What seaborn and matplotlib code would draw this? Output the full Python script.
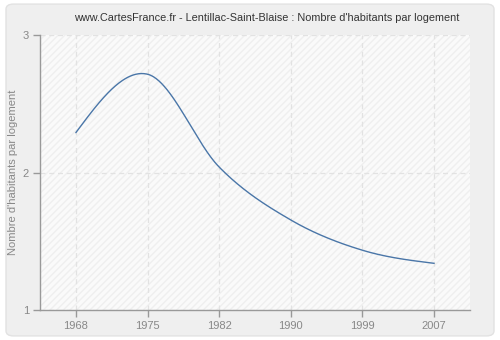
import numpy as np
import pandas as pd
import seaborn as sns
import matplotlib
matplotlib.use("Agg")
import matplotlib.pyplot as plt
from matplotlib.patches import FancyBboxPatch, Rectangle

# Census years and average household size
years = ["1968", "1975", "1982", "1990", "1999", "2007"]
habitants_par_logement = [2.29, 2.715, 2.04, 1.655, 1.435, 1.34]

title = "www.CartesFrance.fr - Lentillac-Saint-Blaise : Nombre d'habitants par logement"
ylabel = "Nombre d'habitants par logement"
yticks = [1, 2, 3]


def smooth_curve(x, y, per_seg=80):
    """Cubic Hermite curve: Catmull-Rom tangents inside, natural ends."""
    x = np.asarray(x, float)
    y = np.asarray(y, float)
    k = len(x)
    d = np.diff(y) / np.diff(x)
    m = np.empty(k)
    for i in range(1, k - 1):
        m[i] = (y[i + 1] - y[i - 1]) / (x[i + 1] - x[i - 1])
    m[0] = (3 * d[0] - m[1]) / 2
    m[-1] = (3 * d[-1] - m[-2]) / 2
    xs_all, ys_all = [], []
    for i in range(k - 1):
        h = x[i + 1] - x[i]
        t = np.linspace(0, 1, per_seg, endpoint=(i == k - 2))
        h00 = 2 * t**3 - 3 * t**2 + 1
        h10 = t**3 - 2 * t**2 + t
        h01 = -2 * t**3 + 3 * t**2
        h11 = t**3 - t**2
        xs_all.append(x[i] + t * h)
        ys_all.append(h00 * y[i] + h10 * h * m[i] + h01 * y[i + 1] + h11 * h * m[i + 1])
    return np.concatenate(xs_all), np.concatenate(ys_all)


pos = np.arange(len(years))
xs, ys = smooth_curve(pos, habitants_par_logement)
curve = pd.DataFrame({"pos": xs, "val": ys})

sns.set_theme(style="white")
plt.rcParams["font.family"] = ["Liberation Sans", "DejaVu Sans"]

fig = plt.figure(figsize=(5.0, 3.4), dpi=100)
fig.patch.set_facecolor("#ffffff")
fig.patches.append(FancyBboxPatch((0.012, 0.012), 0.976, 0.976,
                                  boxstyle="round,pad=0,rounding_size=0.015",
                                  transform=fig.transFigure,
                                  facecolor="#efefef", edgecolor="#e2e2e2",
                                  linewidth=1.0, zorder=-10))

ax = fig.add_axes([0.08, 0.088, 0.86, 0.809])
ax.set_facecolor("#fafafa")
ax.add_patch(Rectangle((0, 0), 1, 1, transform=ax.transAxes, facecolor="none",
                       edgecolor="#efefef", hatch="/////", linewidth=0, zorder=0))

sns.lineplot(data=curve, x="pos", y="val", ax=ax, color="#4a76a8",
             linewidth=1.0, zorder=3)

ax.set_xlim(-0.5, len(years) - 0.5)
ax.set_ylim(1, 3)
ax.set_xticks(pos)
ax.set_xticklabels(years)
ax.set_yticks(yticks)
ax.set_yticklabels([str(t) for t in yticks])

ax.grid(True, color="#e2e2e2", linestyle=(0, (4, 3)), linewidth=0.9)
ax.set_axisbelow(True)

for side in ("top", "right"):
    ax.spines[side].set_visible(False)
for side in ("left", "bottom"):
    ax.spines[side].set_color("#999999")
    ax.spines[side].set_linewidth(1.0)

ax.tick_params(axis="both", which="major", length=5, width=1.0,
               color="#999999", labelcolor="#888888", labelsize=8,
               direction="out", pad=3)
ax.tick_params(axis="x", bottom=True)
ax.tick_params(axis="y", left=True)

ax.set_xlabel("")
ax.set_ylabel(ylabel, color="#888888", fontsize=8)
ax.yaxis.set_label_coords(-0.052, 0.5)

fig.text(0.534, 0.948, title, ha="center", va="center",
         fontsize=7.85, color="#333333")

fig.savefig("out.png", dpi=100, facecolor=fig.get_facecolor())
